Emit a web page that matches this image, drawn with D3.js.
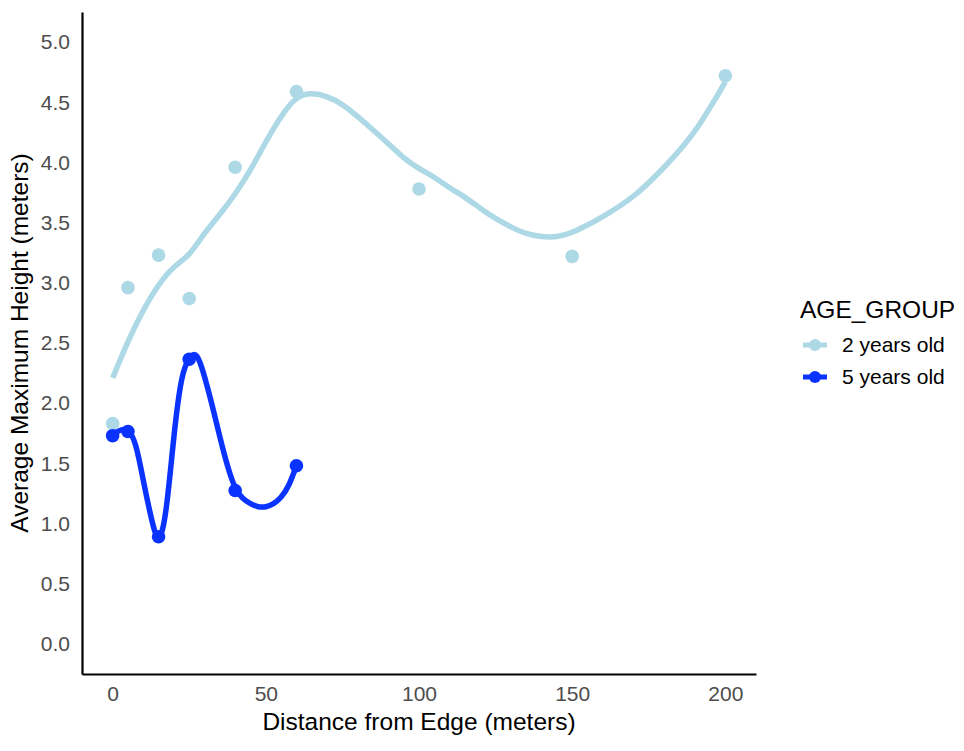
<!DOCTYPE html>
<html>
<head>
<meta charset="utf-8">
<script src="https://cdn.jsdelivr.net/npm/d3@7"></script>
<style>
  html, body { margin: 0; padding: 0; background: #ffffff; }
  svg { display: block; }
  text { font-family: "Liberation Sans", Arial, Helvetica, sans-serif; }
</style>
</head>
<body>
<svg id="chart" width="964" height="751"></svg>
<script>
// Group names and colours
const groups = ["2 years old", "5 years old"];
const groupColors = ["#add8e6", "#0a33ff"];

// Observed means: distance from edge (m) and average maximum height (m)
const distance2yr = [0, 5, 15, 25, 40, 60, 100, 150, 200];
const height2yr   = [1.83, 2.96, 3.23, 2.87, 3.96, 4.59, 3.78, 3.22, 4.72];

const distance5yr = [0, 5, 15, 25, 40, 60];
const height5yr   = [1.73, 1.765, 0.89, 2.365, 1.275, 1.48];

// Smoothed trend for each group
const smoothX2yr = [0, 5, 10, 15, 20, 25, 30, 35, 40, 45, 50, 55, 60, 65, 70, 75, 80, 85, 90, 95,
                    100, 105, 110, 115, 120, 125, 130, 135, 140, 145, 150, 155, 160, 170, 180, 190, 200];
const smoothY2yr = [2.21, 2.51, 2.77, 2.98, 3.13, 3.24, 3.41, 3.57, 3.74, 3.94, 4.17, 4.38, 4.53, 4.57,
                    4.545, 4.48, 4.38, 4.27, 4.155, 4.04, 3.95, 3.875, 3.79, 3.71, 3.62, 3.535, 3.465,
                    3.41, 3.385, 3.385, 3.42, 3.48, 3.55, 3.72, 3.96, 4.26, 4.67];

const smoothX5yr = [0, 2.5, 5, 7.5, 10, 12.5, 15, 17.5, 20, 22.5, 25, 27.5, 30, 32.5, 35, 37.5,
                    40, 42.5, 45, 47.5, 50, 52.5, 55, 57.5, 60];
const smoothY5yr = [1.74, 1.775, 1.77, 1.65, 1.36, 1.06, 0.885, 1.13, 1.72, 2.19, 2.37, 2.39, 2.22,
                    1.98, 1.72, 1.48, 1.30, 1.21, 1.165, 1.14, 1.14, 1.165, 1.22, 1.32, 1.48];

// Axis ticks
const xTicks = [0, 50, 100, 150, 200];
const yTicks = [0, 0.5, 1, 1.5, 2, 2.5, 3, 3.5, 4, 4.5, 5];

const svg = d3.select("#chart");

// Panel extents
const panel = { left: 82, right: 756, top: 12, bottom: 674 };

const x = d3.scaleLinear().domain([-10, 210]).range([panel.left, panel.right]);
const y = d3.scaleLinear().domain([-0.25, 5.25]).range([panel.bottom, panel.top]);

// Y axis
const yAxis = svg.append("g")
  .attr("transform", `translate(${panel.left},0)`)
  .call(d3.axisLeft(y).tickValues(yTicks).tickSize(0).tickPadding(12)
        .tickFormat(d3.format(".1f")));
yAxis.select(".domain").attr("stroke", "#000").attr("stroke-width", 2.2);
yAxis.selectAll("text").attr("fill", "#4d4d4d").style("font-size", "21px");

// X axis
const xAxis = svg.append("g")
  .attr("transform", `translate(0,${panel.bottom})`)
  .call(d3.axisBottom(x).tickValues(xTicks).tickSize(0).tickPadding(12)
        .tickFormat(d3.format("d")));
xAxis.select(".domain").attr("stroke", "#000").attr("stroke-width", 2.2);
xAxis.selectAll("text").attr("fill", "#4d4d4d").style("font-size", "21px");

// Axis titles
svg.append("text")
  .attr("x", (panel.left + panel.right) / 2)
  .attr("y", 730)
  .attr("text-anchor", "middle")
  .style("font-size", "24.5px")
  .attr("fill", "#000")
  .text("Distance from Edge (meters)");

svg.append("text")
  .attr("transform", `translate(28,${(panel.top + panel.bottom) / 2}) rotate(-90)`)
  .attr("text-anchor", "middle")
  .style("font-size", "24.5px")
  .attr("fill", "#000")
  .text("Average Maximum Height (meters)");

// Points
const pointSets = [
  distance2yr.map((d, i) => ({ x: d, y: height2yr[i] })),
  distance5yr.map((d, i) => ({ x: d, y: height5yr[i] }))
];
pointSets.forEach((pts, g) => {
  svg.append("g").selectAll("circle")
    .data(pts)
    .join("circle")
    .attr("cx", d => x(d.x))
    .attr("cy", d => y(d.y))
    .attr("r", 6.8)
    .attr("fill", groupColors[g]);
});

// Smoothed lines
const smoothSets = [
  smoothX2yr.map((d, i) => ({ x: d, y: smoothY2yr[i] })),
  smoothX5yr.map((d, i) => ({ x: d, y: smoothY5yr[i] }))
];
const line = d3.line()
  .x(d => x(d.x))
  .y(d => y(d.y))
  .curve(d3.curveNatural);
smoothSets.forEach((pts, g) => {
  svg.append("path")
    .datum(pts)
    .attr("d", line)
    .attr("fill", "none")
    .attr("stroke", groupColors[g])
    .attr("stroke-width", 5.5)
    .attr("stroke-linecap", "butt")
    .attr("stroke-linejoin", "round");
});

// Legend
const legend = svg.append("g").attr("transform", "translate(800,0)");
legend.append("text")
  .attr("x", 0)
  .attr("y", 318)
  .style("font-size", "24.5px")
  .attr("fill", "#000")
  .text("AGE_GROUP");

const rowY = [345, 377];
groups.forEach((name, i) => {
  const row = legend.append("g").attr("transform", `translate(0,${rowY[i]})`);
  row.append("line")
    .attr("x1", 3).attr("x2", 27)
    .attr("y1", 0).attr("y2", 0)
    .attr("stroke", groupColors[i])
    .attr("stroke-width", 5);
  row.append("circle")
    .attr("cx", 15).attr("cy", 0).attr("r", 6)
    .attr("fill", groupColors[i]);
  row.append("text")
    .attr("x", 42)
    .attr("y", 0)
    .attr("dy", "0.35em")
    .style("font-size", "21px")
    .attr("fill", "#000")
    .text(name);
});
</script>
</body>
</html>
